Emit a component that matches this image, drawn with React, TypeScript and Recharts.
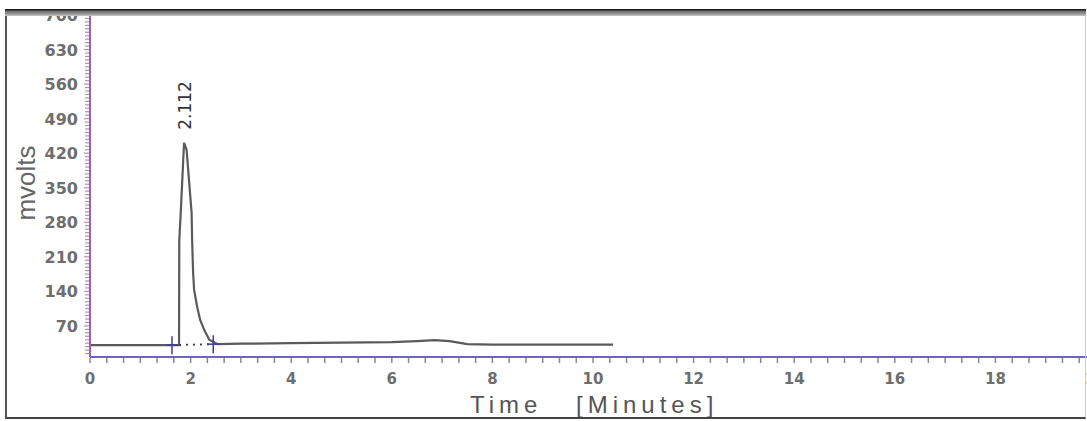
import { LineChart, Line, XAxis, YAxis } from 'recharts';

// chromatogram trace (time in minutes, signal in mV)
const times = [0, 1.77, 1.775, 1.8, 1.87, 1.92, 2.02, 2.03, 2.05, 2.07, 2.13, 2.19, 2.27, 2.37, 2.54, 3.0, 4.0, 5.0, 6.0, 6.5, 6.85, 7.15, 7.5, 8.0, 10.4];
const mvolts = [31, 31, 244, 291, 441, 427, 299, 245, 178, 143, 109, 82, 62, 42, 33, 34, 35, 36, 37, 39, 41, 39, 33, 32, 32];

// integration baseline start / end markers
const baselineTimes = [1.63, 2.45];
const baselineVolts = [31, 33];

const peakLabel = '2.112';
const xLabels = [0, 2, 4, 6, 8, 10, 12, 14, 16, 18, 20];
const yLabels = [70, 140, 210, 280, 350, 420, 490, 560, 630, 700];

const trace = times.map((t, i) => ({ t, v: mvolts[i] }));
const baseline = baselineTimes.map((t, i) => ({ t, v: baselineVolts[i] }));
const peakIndex = mvolts.indexOf(Math.max(...mvolts));

const xTicks = Array.from({ length: 61 }, (_, i) => +(i / 3).toFixed(4));
const yTicks = Array.from({ length: 99 }, (_, i) => 14 + i * 7);

const tickFont = "'DejaVu Sans', sans-serif";
const labelFont = "'Liberation Sans', Arial, sans-serif";

function XTick({ x, y, payload }: any) {
  const v = payload.value;
  const major = xLabels.some((l) => Math.abs(l - v) < 0.01);
  return (
    <g>
      <line x1={x} y1={y + 1} x2={x} y2={y + 6} stroke="#8a80b0" strokeWidth={1.5} />
      {major && (
        <text x={x} y={y + 27} textAnchor="middle" fontSize={15} fontWeight="bold" fill="#6e6e6e" fontFamily={tickFont}>
          {Math.round(v)}
        </text>
      )}
    </g>
  );
}

function YTick({ x, y, payload }: any) {
  const v = payload.value;
  const major = yLabels.includes(v);
  return (
    <g>
      <line x1={x - (major ? 6 : 5)} y1={y} x2={x - 1} y2={y} stroke="#c088c0" strokeWidth={1.2} />
      {major && (
        <text x={x - 12} y={y + 6} textAnchor="end" fontSize={16} fontWeight="bold" fill="#6e6e6e" fontFamily={tickFont}>
          {v}
        </text>
      )}
    </g>
  );
}

function Cross({ cx, cy }: any) {
  return (
    <g>
      <line x1={cx} y1={cy - 9} x2={cx} y2={cy + 9} stroke="#3c3ca0" strokeWidth={1.5} />
      <line x1={cx - 6} y1={cy} x2={cx + 6} y2={cy} stroke="#3c3ca0" strokeWidth={1.5} />
    </g>
  );
}

function PeakLabel({ x, y, index }: any) {
  if (index !== peakIndex) return null;
  return (
    <text
      transform={`translate(${x + 7},${y - 13}) rotate(-90)`}
      textAnchor="start"
      fontSize={17}
      fill="#333"
      fontFamily={tickFont}
    >
      {peakLabel}
    </text>
  );
}

export default function App() {
  return (
    <div style={{ position: 'absolute', left: 0, top: 0, width: 1087, height: 421, overflow: 'hidden', background: '#fff' }}>
      <LineChart width={1100} height={421} margin={{ top: 15, right: 4, bottom: 34, left: 0 }}>
        <XAxis
          dataKey="t"
          type="number"
          domain={[0, 20]}
          ticks={xTicks}
          interval={0}
          height={30}
          tickSize={0}
          tickMargin={0}
          tickLine={false}
          axisLine={{ stroke: '#6f62c8', strokeWidth: 2 }}
          tick={<XTick />}
          allowDataOverflow
        />
        <YAxis
          type="number"
          domain={[7, 700]}
          ticks={yTicks}
          interval={0}
          width={90}
          tickSize={0}
          tickMargin={0}
          tickLine={false}
          axisLine={{ stroke: '#9a62a8', strokeWidth: 2 }}
          tick={<YTick />}
          allowDataOverflow
        />
        <Line
          data={trace}
          dataKey="v"
          type="linear"
          stroke="#5a5a5a"
          strokeWidth={2.2}
          dot={false}
          activeDot={false}
          label={<PeakLabel />}
          isAnimationActive={false}
        />
        <Line
          data={baseline}
          dataKey="v"
          type="linear"
          stroke="#444"
          strokeWidth={2}
          strokeDasharray="2 5"
          dot={<Cross />}
          activeDot={false}
          isAnimationActive={false}
        />
      </LineChart>

      <svg style={{ position: 'absolute', left: 0, top: 0 }} width={1087} height={421}>
        <text
          transform="translate(35,183) rotate(-90)"
          textAnchor="middle"
          fontSize={26}
          fill="#666"
          fontFamily={labelFont}
        >
          mvolts
        </text>
        <text x={470} y={413} fontSize={24} letterSpacing={5} fill="#555" fontFamily={labelFont}>
          Time
        </text>
        <text x={576} y={413} fontSize={24} letterSpacing={5} fill="#555" fontFamily={labelFont}>
          [Minutes]
        </text>
      </svg>

      {/* outer frame */}
      <div
        style={{
          position: 'absolute',
          left: 5,
          top: 9,
          width: 1078,
          height: 408,
          borderLeft: '2px solid #555',
          borderBottom: '2px solid #444',
          borderRight: '1px solid #ccc',
          pointerEvents: 'none',
        }}
      />
      <div
        style={{
          position: 'absolute',
          left: 5,
          top: 9,
          width: 1081,
          height: 7,
          background: 'linear-gradient(#1e1e1e 0px, #1e1e1e 1px, #6a6a6a 2px, #9a9a9a 5px, #c8c8c8 7px)',
          pointerEvents: 'none',
        }}
      />
    </div>
  );
}
